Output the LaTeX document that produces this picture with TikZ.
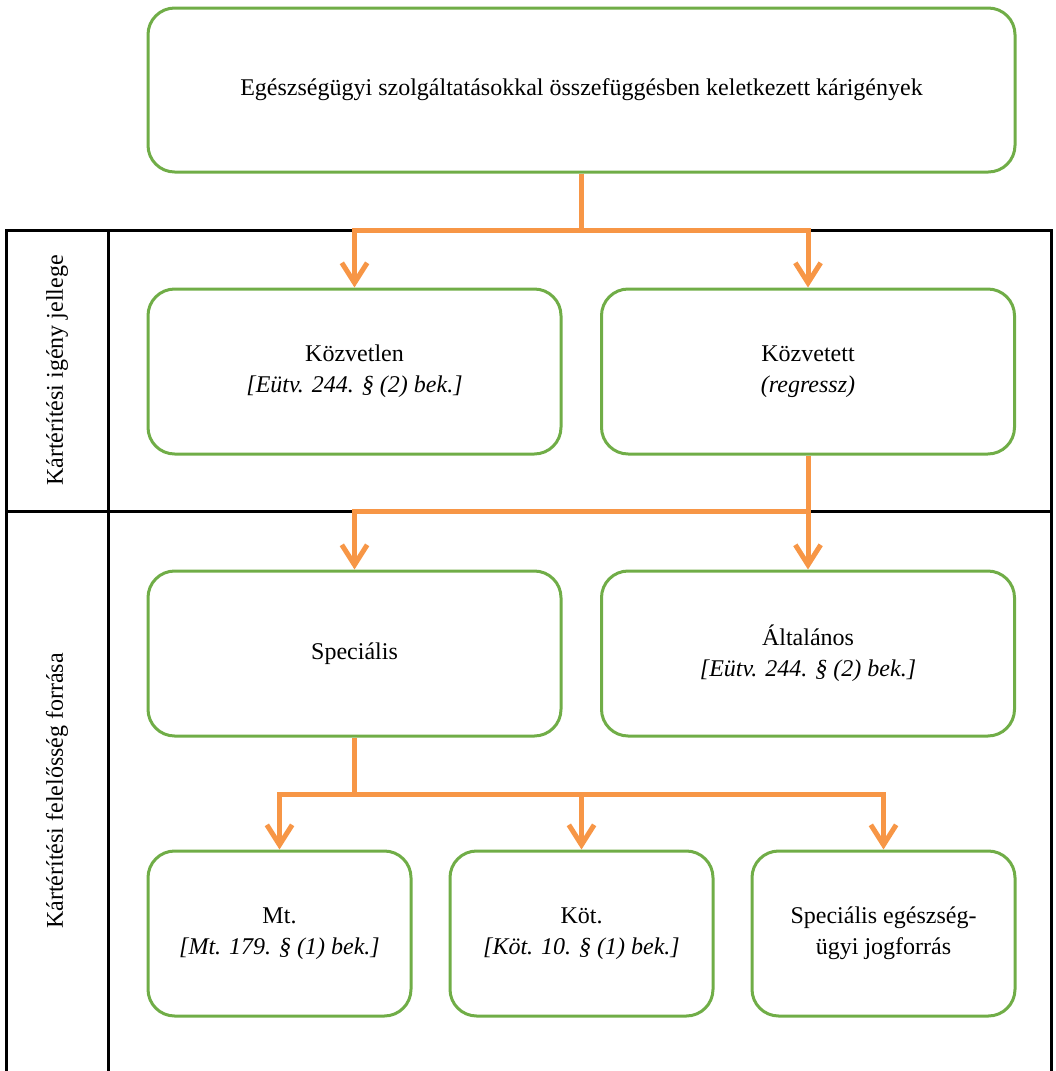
\documentclass[tikz,border=0pt]{standalone}
\usepackage{fontspec}
\setmainfont{Liberation Serif}[Ligatures=TeX]
\usetikzlibrary{arrows.meta, positioning}
\definecolor{boxgreen}{RGB}{112,173,71}
\definecolor{floworange}{RGB}{247,150,70}

\begin{document}
\begin{tikzpicture}[x=0.75pt, y=-0.75pt,
                font=\rmfamily\fontsize{18}{23.25}\selectfont,
                claim box/.style={draw=boxgreen, line width=2.25pt, rounded corners=20pt,
                                  align=center, minimum width=309.75pt, minimum height=123.75pt},
                small box/.style={claim box, minimum width=197.25pt},
                flow/.style={draw=floworange, line width=3.75pt,
                             -{Straight Barb[length=15pt, width=19pt]}},
                frame/.style={draw=black, line width=2.25pt}]
                \useasboundingbox (0,0) rectangle (1056,1071);

                % Frame with the two row labels
                \coordinate (frame nw) at (6,230);
                \coordinate (frame mid) at (6,511);
                \draw[frame] (6,1071) -- (frame nw) -- (1051,230) -- (1051,1071);
                \draw[frame] (108,230) -- (108,1071);
                \draw[frame] (frame mid) -- (1051,511);
                \node[rotate=90] (jelleg) at (57,370.5) {Kártérítési igény jellege};
                \node[rotate=90] (forras) at (57,791) {Kártérítési felelősség forrása};

                % Claim boxes
                \node[claim box, minimum width=650.25pt, minimum height=123pt] (top) at (581.5,90)
                    {Egészségügyi szolgáltatásokkal összefüggésben keletkezett kárigények};
                \node[claim box] (kozvetlen) at (354.5,371.5)
                    {Közvetlen\\\textit{[Eütv. 244. § (2) bek.]}};
                \node[claim box] (kozvetett) at (808,371.5)
                    {Közvetett\\\textit{(regressz)}};
                \node[claim box, below=85.5pt of kozvetlen] (specialis) {Speciális};
                \node[claim box, below=85.5pt of kozvetett] (altalanos)
                    {Általános\\\textit{[Eütv. 244. § (2) bek.]}};
                \node[small box] (mt) at (279.5,933.5)
                    {Mt.\\\textit{[Mt. 179. § (1) bek.]}};
                \node[small box] (kot) at (581.5,933.5)
                    {Köt.\\\textit{[Köt. 10. § (1) bek.]}};
                \node[small box] (jogforras) at (883.5,933.5)
                    {Speciális egészség-\\ügyi jogforrás};

                % Branches from the top claim
                \coordinate (row1 split) at (top.south |- frame nw);
                \draw[flow] (top.south) -- (row1 split) -| (kozvetlen.north);
                \draw[flow] (row1 split) -| (kozvetett.north);

                % Branches from the indirect claim
                \coordinate (row2 split) at (kozvetett.south |- frame mid);
                \draw[flow] (kozvetett.south) -- (altalanos.north);
                \draw[flow] (row2 split) -| (specialis.north);

                % Branches from the special source
                \path (specialis.south) ++(0,57) coordinate (row3 split);
                \draw[flow] (specialis.south) -- (row3 split) -| (mt.north);
                \draw[flow] (row3 split) -| (jogforras.north);
                \draw[flow] (kot.north |- row3 split) -- (kot.north);
\end{tikzpicture}
\end{document}
